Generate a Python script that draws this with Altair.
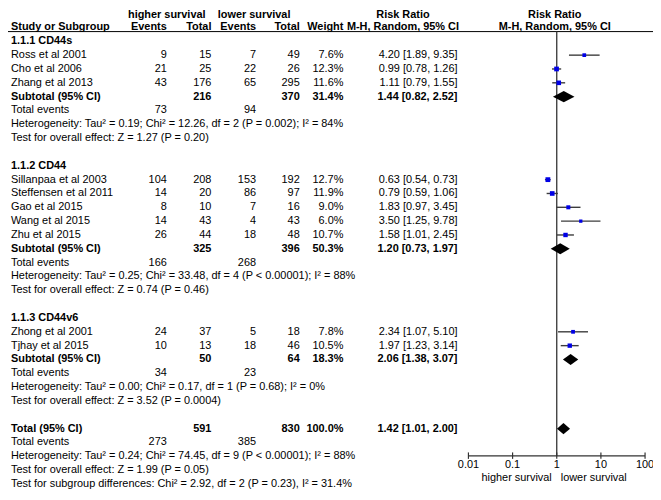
import altair as alt
import pandas as pd

# ---------------- data ----------------
groups = ["1.1.1 CD44s", "1.1.2 CD44", "1.1.3 CD44v6"]
group_of_study = [0, 0, 0, 1, 1, 1, 1, 1, 2, 2]
studies = ["Ross et al 2001", "Cho et al 2006", "Zhang et al 2013",
           "Sillanpaa et al 2003", "Steffensen et al 2011", "Gao et al 2015",
           "Wang et al 2015", "Zhu et al 2015",
           "Zhong et al 2001", "Tjhay et al 2015"]
hi_events = [9, 21, 43, 104, 14, 8, 14, 26, 24, 10]
hi_total = [15, 25, 176, 208, 20, 10, 43, 44, 37, 13]
lo_events = [7, 22, 65, 153, 86, 7, 4, 18, 5, 18]
lo_total = [49, 26, 295, 192, 97, 16, 43, 48, 18, 46]
weights = [7.6, 12.3, 11.6, 12.7, 11.9, 9.0, 6.0, 10.7, 7.8, 10.5]
rr = [4.20, 0.99, 1.11, 0.63, 0.79, 1.83, 3.50, 1.58, 2.34, 1.97]
ci_lo = [1.89, 0.78, 0.79, 0.54, 0.59, 0.97, 1.25, 1.01, 1.07, 1.23]
ci_hi = [9.35, 1.26, 1.55, 0.73, 1.06, 3.45, 9.78, 2.45, 5.10, 3.14]

sub_hi_total = [216, 325, 50]
sub_lo_total = [370, 396, 64]
sub_weight = [31.4, 50.3, 18.3]
sub_rr = [1.44, 1.20, 2.06]
sub_lo = [0.82, 0.73, 1.38]
sub_hi = [2.52, 1.97, 3.07]
sub_ev_hi = [73, 166, 34]
sub_ev_lo = [94, 268, 23]
sub_het = ["Heterogeneity: Tau² = 0.19; Chi² = 12.26, df = 2 (P = 0.002); I² = 84%",
           "Heterogeneity: Tau² = 0.25; Chi² = 33.48, df = 4 (P < 0.00001); I² = 88%",
           "Heterogeneity: Tau² = 0.00; Chi² = 0.17, df = 1 (P = 0.68); I² = 0%"]
sub_test = ["Test for overall effect: Z = 1.27 (P = 0.20)",
            "Test for overall effect: Z = 0.74 (P = 0.46)",
            "Test for overall effect: Z = 3.52 (P = 0.0004)"]

tot_hi_total, tot_lo_total, tot_weight = 591, 830, 100.0
tot_rr, tot_lo, tot_hi = 1.42, 1.01, 2.00
tot_ev_hi, tot_ev_lo = 273, 385
tot_het = "Heterogeneity: Tau² = 0.24; Chi² = 74.45, df = 9 (P < 0.00001); I² = 88%"
tot_test = "Test for overall effect: Z = 1.99 (P = 0.05)"
tot_sub = "Test for subgroup differences: Chi² = 2.92, df = 2 (P = 0.23), I² = 31.4%"

header_top = ["higher survival", "lower survival", "Risk Ratio", "Risk Ratio"]
header_cols = ["Study or Subgroup", "Events", "Total", "Events", "Total",
               "Weight", "M-H, Random, 95% CI", "M-H, Random, 95% CI"]
tick_vals = [0.01, 0.1, 1, 10, 100]
tick_labels = ["0.01", "0.1", "1", "10", "100"]
favours = ["higher survival", "lower survival"]

# ---------------- build table ----------------
def ci_str(a, b, c):
    return f"{a:.2f} [{b:.2f}, {c:.2f}]"

rows, marks, dias = [], [], []
r = 0
for g, gname in enumerate(groups):
    rows.append(dict(row=r, label=gname, bold=True)); r += 1
    for i, s in enumerate(studies):
        if group_of_study[i] != g:
            continue
        rows.append(dict(row=r, label=s, he=str(hi_events[i]), ht=str(hi_total[i]),
                         le=str(lo_events[i]), lt=str(lo_total[i]),
                         w=f"{weights[i]:.1f}%", ci=ci_str(rr[i], ci_lo[i], ci_hi[i]), bold=False))
        marks.append(dict(row=r, rr=rr[i], lo=ci_lo[i], hi=ci_hi[i], w=weights[i]))
        r += 1
    rows.append(dict(row=r, label="Subtotal (95% CI)", ht=str(sub_hi_total[g]),
                     lt=str(sub_lo_total[g]), w=f"{sub_weight[g]:.1f}%",
                     ci=ci_str(sub_rr[g], sub_lo[g], sub_hi[g]), bold=True))
    dias.append((r, sub_rr[g], sub_lo[g], sub_hi[g]))
    r += 1
    rows.append(dict(row=r, label="Total events", he=str(sub_ev_hi[g]), le=str(sub_ev_lo[g]), bold=False)); r += 1
    rows.append(dict(row=r, label=sub_het[g], bold=False)); r += 1
    rows.append(dict(row=r, label=sub_test[g], bold=False)); r += 1
    r += 1
rows.append(dict(row=r, label="Total (95% CI)", ht=str(tot_hi_total), lt=str(tot_lo_total),
                 w=f"{tot_weight:.1f}%", ci=ci_str(tot_rr, tot_lo, tot_hi), bold=True))
dias.append((r, tot_rr, tot_lo, tot_hi))
r += 1
rows.append(dict(row=r, label="Total events", he=str(tot_ev_hi), le=str(tot_ev_lo), bold=False)); r += 1
rows.append(dict(row=r, label=tot_het, bold=False)); r += 1
rows.append(dict(row=r, label=tot_test, bold=False)); r += 1
rows.append(dict(row=r, label=tot_sub, bold=False))
nrows = r

table = pd.DataFrame(rows).fillna("")
mark_df = pd.DataFrame(marks)
H = 0.4  # diamond half-height in row units
dia_pts = []
for k, (row, m, a, b) in enumerate(dias):
    dia_pts += [dict(g=k, x=a, y=row, y2=row), dict(g=k, x=m, y=row - H, y2=row + H),
                dict(g=k, x=b, y=row, y2=row)]
dia_df = pd.DataFrame(dia_pts)

# ---------------- layout ----------------
K = 0.975
def Y(ref):
    return round((ref - 2) * K, 1)

FONT = "Liberation Sans"
FS = 11
W, HGT = 650, 482
xs = alt.Scale(type="log", domain=[0.01, 100], range=[464, 642], nice=False)
ys = alt.Scale(domain=[0, nrows], range=[Y(34.5), Y(34.5 + nrows * 14.3)], nice=False, zero=False)

layers = []
one = pd.DataFrame({"a": [0]})

def hdr(text, x, y, align):
    return alt.Chart(one).mark_text(text=text, align=align, baseline="middle", font=FONT,
                                    fontSize=FS, fontWeight="bold", color="black").encode(
        x=alt.value(x), y=alt.value(y))

# headers
for t, x in zip(header_top, [160, 248, 398, 551]):
    layers.append(hdr(t, x, Y(7), "center"))
for t, x, al in zip(header_cols, [3, 160, 205, 250, 294, 338, 398, 551],
                    ["left", "right", "right", "right", "right", "right", "center", "center"]):
    layers.append(hdr(t, x, Y(19.5), al))
layers.append(alt.Chart(one).mark_rule(color="black", strokeWidth=1).encode(
    x=alt.value(0), x2=alt.value(W), y=alt.value(Y(24.5))))

# table columns
cols = [("label", 3, "left"), ("he", 160, "right"), ("ht", 205, "right"),
        ("le", 250, "right"), ("lt", 294, "right"), ("w", 338, "right"), ("ci", 453, "right")]
for bold in (False, True):
    sub = table[table["bold"] == bold]
    for f, x, al in cols:
        d = sub[sub[f] != ""][["row", f]]
        if len(d) == 0:
            continue
        layers.append(alt.Chart(d).mark_text(align=al, baseline="middle", font=FONT, fontSize=FS,
                                             fontWeight="bold" if bold else "normal", color="black").encode(
            x=alt.value(x), y=alt.Y("row:Q", scale=ys, axis=None), text=f"{f}:N"))

# reference line at 1
layers.append(alt.Chart(pd.DataFrame({"v": [1]})).mark_rule(color="#333333", strokeWidth=1.3).encode(
    x=alt.X("v:Q", scale=xs, axis=None), y=alt.value(Y(24.5)), y2=alt.value(Y(463))))

# CI lines and squares
layers.append(alt.Chart(mark_df).mark_rule(color="#3c3c3c", strokeWidth=1.4).encode(
    x=alt.X("lo:Q", scale=xs, axis=None), x2="hi:Q", y=alt.Y("row:Q", scale=ys, axis=None)))
layers.append(alt.Chart(mark_df).mark_square(color="#0000e6", opacity=1).encode(
    x=alt.X("rr:Q", scale=xs, axis=None), y=alt.Y("row:Q", scale=ys, axis=None),
    size=alt.Size("w:Q", scale=alt.Scale(domain=[0, 13], range=[0, 24]), legend=None)))

# diamonds
layers.append(alt.Chart(dia_df).mark_area(color="black", opacity=1).encode(
    x=alt.X("x:Q", scale=xs, axis=None), y=alt.Y("y:Q", scale=ys, axis=None), y2="y2:Q",
    detail="g:N"))

# axis
tick_df = pd.DataFrame({"v": tick_vals, "lab": tick_labels})
layers.append(alt.Chart(pd.DataFrame({"a": [tick_vals[0]], "b": [tick_vals[-1]]})).mark_rule(
    color="#333333", strokeWidth=1.2).encode(
    x=alt.X("a:Q", scale=xs, axis=None), x2="b:Q", y=alt.value(Y(463))))
layers.append(alt.Chart(tick_df).mark_rule(color="#333333", strokeWidth=1.2).encode(
    x=alt.X("v:Q", scale=xs, axis=None), y=alt.value(Y(463) - 3.5), y2=alt.value(Y(463) + 3)))
layers.append(alt.Chart(tick_df).mark_text(baseline="middle", font=FONT, fontSize=FS, color="black").encode(
    x=alt.X("v:Q", scale=xs, axis=None), y=alt.value(Y(473)), text="lab:N"))
layers.append(alt.Chart(pd.DataFrame({"v": [1], "t": [favours[0]]})).mark_text(
    align="right", baseline="middle", dx=-5, font=FONT, fontSize=FS, color="black").encode(
    x=alt.X("v:Q", scale=xs, axis=None), y=alt.value(Y(486)), text="t:N"))
layers.append(alt.Chart(pd.DataFrame({"v": [1], "t": [favours[1]]})).mark_text(
    align="left", baseline="middle", dx=4, font=FONT, fontSize=FS, color="black").encode(
    x=alt.X("v:Q", scale=xs, axis=None), y=alt.value(Y(486)), text="t:N"))

chart = alt.layer(*layers).properties(
    width=W, height=HGT, padding=0, autosize="none", background="white"
).configure_view(stroke=None)

chart.save("out.html", embed_options={"renderer": "svg", "actions": False})
